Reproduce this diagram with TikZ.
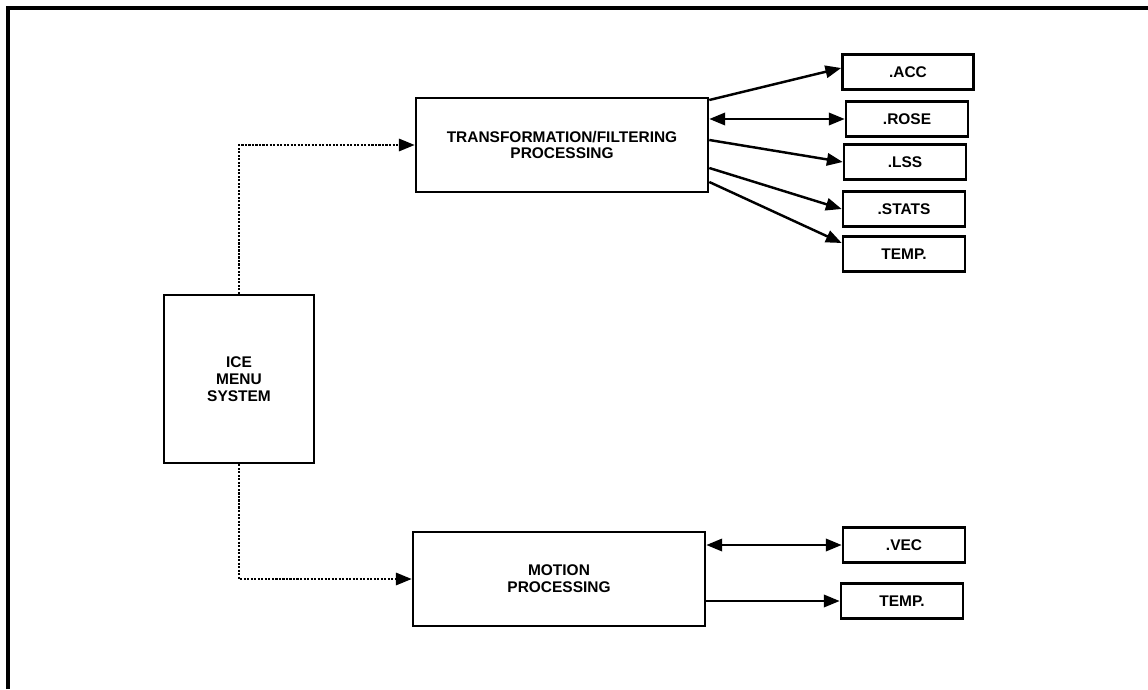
\documentclass[tikz,border=0pt]{standalone}
\usepackage{fontspec}
\setmainfont{Liberation Sans}
\usetikzlibrary{arrows.meta,positioning}

\begin{document}
\begin{tikzpicture}[x=0.02cm, y=-0.02cm,
  procbox/.style={draw, line width=1.5pt, minimum width=5.84cm, minimum height=1.88cm,
    align=center, inner sep=0pt, font=\fontsize{8.8}{9.6}\selectfont\bfseries},
  filebox/.style={draw, line width=1.5pt, minimum width=2.44cm, minimum height=0.7cm,
    inner sep=0pt, font=\fontsize{8.8}{9.6}\selectfont\bfseries},
  link/.style={line width=1.4pt, -{Triangle[length=9pt, width=7pt]}},
  dlink/.style={line width=1.4pt, {Triangle[length=9pt, width=7pt]}-{Triangle[length=9pt, width=7pt]}},
  menulink/.style={line width=1.3pt, dash pattern=on 1.2pt off 0.8pt,
    -{Triangle[length=9pt, width=7pt]}}]
  \useasboundingbox (0,0) rectangle (1148,689);

  % Frame
  \draw[line width=2pt] (8,689) -- (8,8) -- (1148,8);

  % Main blocks
  \node[procbox, minimum width=3cm, minimum height=3.36cm] (ice) at (239,379) {ICE\\MENU\\SYSTEM};
  \node[procbox] (tf) at (562,145) {TRANSFORMATION/FILTERING\\PROCESSING};
  \node[procbox] (motion) at (559,579) {MOTION\\PROCESSING};

  % Files of the transformation step
  \node[filebox, minimum width=2.62cm] (acc) at (908,72) {.ACC};
  \node[filebox] (rose) at (907,119) {.ROSE};
  \node[filebox] (lss) at (905,162) {.LSS};
  \node[filebox] (stats) at (904,209) {.STATS};
  \node[filebox] (temptf) at (904,254) {TEMP.};

  % Files of the motion step
  \node[filebox] (vec) at (904,545) {.VEC};
  \node[filebox] (tempmo) at (902,601) {TEMP.};

  % Menu links
  \draw[menulink] (ice.north) |- (tf.west);
  \draw[menulink] (ice.south) |- (motion.west);

  % Transformation outputs
  \draw[link] ([yshift=0.9cm]tf.east) -- ([yshift=0.08cm]acc.west);
  \draw[dlink] (rose.west -| tf.east) -- (rose.west);
  \draw[link] ([yshift=0.1cm]tf.east) -- (lss.west);
  \draw[link] ([yshift=-0.46cm]tf.east) -- (stats.west);
  \draw[link] ([yshift=-0.74cm]tf.east) -- ([yshift=0.22cm]temptf.west);

  % Motion outputs
  \draw[dlink] (vec.west -| motion.east) -- (vec.west);
  \draw[link] (tempmo.west -| motion.east) -- (tempmo.west);
\end{tikzpicture}
\end{document}
